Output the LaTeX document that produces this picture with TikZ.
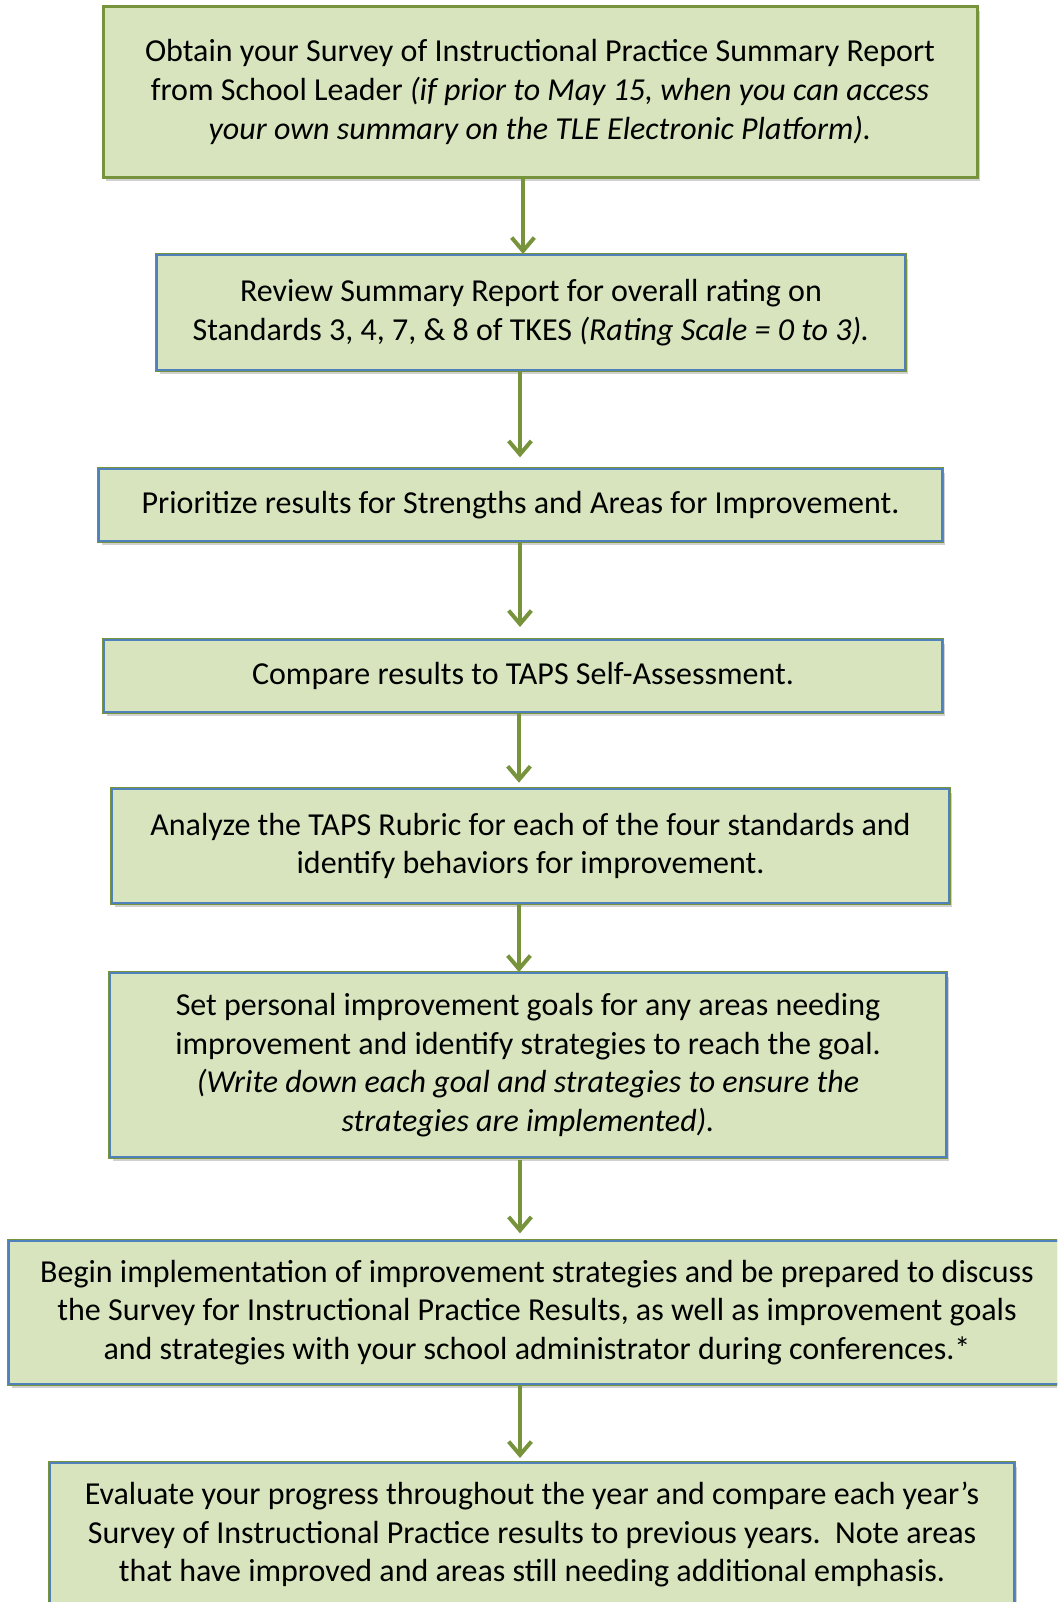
\documentclass[tikz,border=0pt]{standalone}
\usepackage{fontspec}
\setmainfont{Carlito}
\usetikzlibrary{arrows.meta,shadows}
\definecolor{boxfill}{HTML}{D7E4BD}
\definecolor{olive}{HTML}{77933C}
\definecolor{bblue}{HTML}{4F81BD}
\tikzset{
  stepbase/.style={fill=boxfill, align=center, inner sep=0pt,
    font=\fontsize{24pt}{29pt}\selectfont,
    drop shadow={opacity=0.3, shadow xshift=2pt, shadow yshift=-3pt, fill=black!60}},
  greenbox/.style={stepbase, draw=olive, line width=2.25pt},
  bluebox/.style={stepbase, preaction={draw=olive, line width=3pt}, draw=bblue, line width=1.5pt},
  arr/.style={draw=olive, line width=3pt, -{Straight Barb[length=10pt,width=17pt]}}
}
\begin{document}
\begin{tikzpicture}[x=0.75pt,y=-0.75pt]
\useasboundingbox (0,0) rectangle (1057,1602);
\clip (0,0) rectangle (1057,1602);
\node[greenbox, minimum width=655.5pt, minimum height=127.5pt] (b1) at (540,92)
  {Obtain your Survey of Instructional Practice Summary Report\\
   from School Leader \textit{(if prior to May 15, when you can access}\\
   \textit{your own summary on the TLE Electronic Platform).}};
\node[bluebox, minimum width=561pt, minimum height=86.25pt] (b2) at (531,312.5)
  {Review Summary Report for overall rating on\\
   Standards 3, 4, 7, \& 8 of TKES \textit{(Rating Scale = 0 to 3).}};
\node[bluebox, minimum width=632.25pt, minimum height=54pt] (b3) at (520.5,505)
  {Prioritize results for Strengths and Areas for Improvement.};
\node[bluebox, minimum width=628.5pt, minimum height=54pt] (b4) at (523,676)
  {Compare results to TAPS Self-Assessment.};
\node[bluebox, minimum width=627.75pt, minimum height=85.5pt] (b5) at (530.5,846)
  {Analyze the TAPS Rubric for each of the four standards and\\
   identify behaviors for improvement.};
\node[bluebox, minimum width=627pt, minimum height=138pt] (b6) at (528,1065)
  {Set personal improvement goals for any areas needing\\
   improvement and identify strategies to reach the goal.\\
   \textit{(Write down each goal and strategies to ensure the}\\
   \textit{strategies are implemented).}};
\node[bluebox, minimum width=792pt, minimum height=107.25pt] (b7) at (537,1312.5)
  {Begin implementation of improvement strategies and be prepared to discuss\\
   the Survey for Instructional Practice Results, as well as improvement goals\\
   and strategies with your school administrator during conferences.*};
\node[bluebox, minimum width=723pt, minimum height=107.25pt] (b8) at (532,1534.5)
  {Evaluate your progress throughout the year and compare each year’s\\
   Survey of Instructional Practice results to previous years.\ \ Note areas\\
   that have improved and areas still needing additional emphasis.};
\coordinate (xa) at (523,0);
\coordinate (xb) at (520,0);
\coordinate (xc) at (519,0);
\draw[arr] (b1.south -| xa) -- (b2.north -| xa);
\draw[arr, shorten >=8pt] (b2.south -| xb) -- (b3.north -| xb);
\draw[arr, shorten >=9pt] (b3.south -| xb) -- (b4.north -| xb);
\draw[arr, shorten >=4pt] (b4.south -| xc) -- (b5.north -| xc);
\draw[arr] (b5.south -| xc) -- (b6.north -| xc);
\draw[arr, shorten <=1.5pt, shorten >=5pt] (b6.south -| xb) -- (b7.north -| xb);
\draw[arr, shorten >=3pt] (b7.south -| xb) -- (b8.north -| xb);
\end{tikzpicture}
\end{document}
